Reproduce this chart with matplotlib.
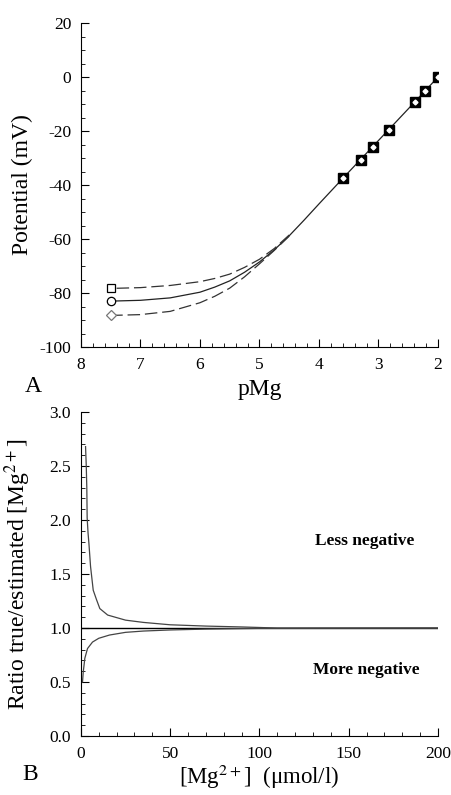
import numpy as np
import matplotlib
matplotlib.use('Agg')
import matplotlib.pyplot as plt
from matplotlib.ticker import MultipleLocator, FormatStrFormatter

plt.rcParams['font.family'] = ['Liberation Serif', 'DejaVu Serif']
plt.rcParams['mathtext.fontset'] = 'stix'
plt.rcParams['axes.unicode_minus'] = False
plt.rcParams['lines.scale_dashes'] = False

# panel A: measured calibration points
pmg_pts = [2.0, 2.22, 2.39, 2.83, 3.09, 3.30, 3.60]
mv_pts = [0.0, -5.2, -9.4, -19.5, -25.9, -30.7, -37.5]

# fitted curves
pmg_fit = [2.0, 2.5, 3.0, 3.5, 4.0, 4.25, 4.5, 4.75, 5.0, 5.25, 5.5, 5.75, 6.0, 6.5, 7.0, 7.5]
mv_fit = [0.0, -11.8, -23.5, -35.2, -47.0, -53.0, -58.8, -64.0, -68.5, -72.3, -75.5,
          -77.8, -79.7, -81.8, -82.7, -83.0]
pmg_dash = [4.5, 4.75, 5.0, 5.25, 5.5, 5.75, 6.0, 6.5, 7.0, 7.5]
mv_less = [-58.5, -63.5, -67.5, -70.5, -73.0, -74.6, -75.8, -77.2, -78.0, -78.3]
mv_more = [-58.9, -64.2, -69.2, -74.0, -78.2, -81.2, -83.6, -86.8, -88.0, -88.3]

# panel B: ratio true / estimated
conc_up = [2.6, 3.0, 3.3, 3.5, 4.0, 4.5, 5.4, 6.9, 8.8, 10.6, 15, 25, 35, 50, 70, 90, 110, 200]
ratio_up = [2.68, 2.50, 2.30, 2.02, 1.88, 1.78, 1.57, 1.35, 1.26, 1.18, 1.12, 1.073,
            1.052, 1.03, 1.018, 1.01, 1.0, 1.0]
conc_lo = [0.9, 1.3, 2.2, 3.7, 6.5, 10, 16, 25, 35, 50, 70, 100, 200]
ratio_lo = [0.50, 0.59, 0.72, 0.81, 0.87, 0.905, 0.935, 0.96, 0.972, 0.982, 0.99, 0.997, 1.0]
conc_ref = [0, 200]
ratio_ref = [1.0, 1.0]

fig = plt.figure(figsize=(4.52, 7.95), dpi=100)
ax1 = fig.add_axes([0.179, 0.5635, 0.790, 0.4075])
ax2 = fig.add_axes([0.179, 0.0742, 0.790, 0.4075])

for ax in (ax1, ax2):
    ax.spines['top'].set_visible(False)
    ax.spines['right'].set_visible(False)
    ax.tick_params(which='both', direction='in', labelsize=12.5, pad=7)
    ax.tick_params(which='major', length=6)
    ax.tick_params(which='minor', length=3)

# --- panel A
ax1.plot(pmg_fit, mv_fit, color='#222222', lw=0.9)
ax1.plot(pmg_dash, mv_less, color='#333333', lw=0.9, dashes=(9, 3.5))
ax1.plot(pmg_dash, mv_more, color='#333333', lw=0.9, dashes=(9, 3.5))
ax1.plot(pmg_pts, mv_pts, 's', color='black', ms=7)
ax1.plot(pmg_pts, mv_pts, 'D', color='white', ms=2.5)
ax1.plot(pmg_dash[-1], mv_less[-1], 's', mfc='white', mec='black', ms=6, mew=0.9)
ax1.plot(pmg_fit[-1], mv_fit[-1], 'o', mfc='white', mec='black', ms=6, mew=0.9)
ax1.plot(pmg_dash[-1], mv_more[-1], 'D', mfc='white', mec='#777777', ms=5, mew=0.9)
ax1.set_xlim(8, 2)
ax1.set_ylim(-100, 20)
ax1.xaxis.set_major_locator(MultipleLocator(1))
ax1.xaxis.set_minor_locator(MultipleLocator(0.2))
ax1.yaxis.set_major_locator(MultipleLocator(20))
ax1.yaxis.set_minor_locator(MultipleLocator(5))
ax1.set_xlabel('pMg', fontsize=17)
ax1.set_ylabel('Potential (mV)', fontsize=17)
ax1.xaxis.set_label_coords(0.5, -0.098)
ax1.yaxis.set_label_coords(-0.135, 0.5)

# --- panel B
ax2.plot(conc_ref, ratio_ref, color='black', lw=1.0)
ax2.plot(conc_up, ratio_up, color='#444444', lw=0.9)
ax2.plot(conc_lo, ratio_lo, color='#444444', lw=0.9)
ax2.set_xlim(0, 200)
ax2.set_ylim(0, 3)
ax2.xaxis.set_major_locator(MultipleLocator(50))
ax2.xaxis.set_minor_locator(MultipleLocator(10))
ax2.yaxis.set_major_locator(MultipleLocator(0.5))
ax2.yaxis.set_minor_locator(MultipleLocator(0.1))
ax2.yaxis.set_major_formatter(FormatStrFormatter('%.1f'))
ax2.text(159, 1.81, 'Less negative', fontsize=12.5, fontweight='bold', ha='center', va='center')
ax2.text(160, 0.61, 'More negative', fontsize=12.5, fontweight='bold', ha='center', va='center')
ax2.set_xlabel('[Mg$^{2+}$]  (\u03bcmol/l)', fontsize=16.5)
ax2.set_ylabel('Ratio true/estimated [Mg$^{2+}$]', fontsize=17)
ax2.xaxis.set_label_coords(0.5, -0.082)
ax2.yaxis.set_label_coords(-0.135, 0.5)

fig.text(33 / 452, 1 - 386 / 795, 'A', fontsize=17, ha='center', va='center')
fig.text(30 / 452, 1 - 775 / 795, 'B', fontsize=17, ha='center', va='center')

fig.savefig('out.png', dpi=100)
